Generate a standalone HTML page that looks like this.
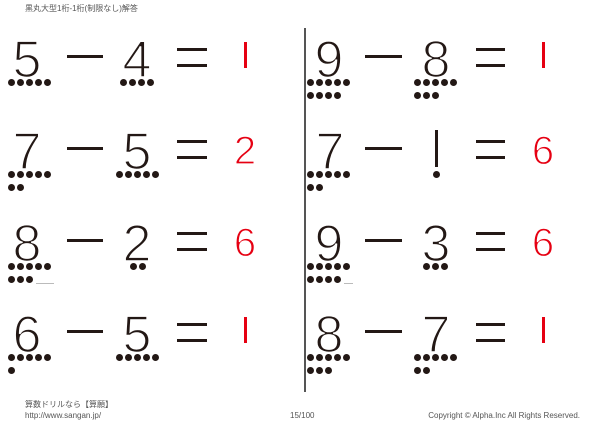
<!DOCTYPE html>
<html><head><meta charset="utf-8"><style>
body{margin:0;width:600px;height:422px;background:#fff;position:relative;overflow:hidden;font-family:"Liberation Sans","Noto Sans CJK JP",sans-serif}
.n{position:absolute;width:40px;text-align:center;font-size:52px;line-height:52px;color:#231815;-webkit-text-stroke:1.6px #fff;margin-top:3px}
.a{position:absolute;width:40px;text-align:center;font-size:40px;line-height:40px;color:#e60012;-webkit-text-stroke:1.2px #fff;margin-top:2px}
.d{position:absolute;width:7px;height:7px;border-radius:50%;background:#231815}
.m,.e{position:absolute;height:3px;background:#231815}
.t{position:absolute;font-size:8px;color:#555;white-space:nowrap}
.one{position:absolute;width:2.5px;background:#e60012}
</style></head><body>
<div class="t" style="left:25px;top:3px">黒丸大型1桁-1桁(制限なし)解答</div>
<div style="position:absolute;left:304px;top:28px;width:1.5px;height:364px;background:#555"></div>

<div class="n" style="left:7px;top:31px">5</div>
<div class="d" style="left:8px;top:79px"></div><div class="d" style="left:17px;top:79px"></div><div class="d" style="left:26px;top:79px"></div><div class="d" style="left:35px;top:79px"></div><div class="d" style="left:44px;top:79px"></div>
<div class="m" style="left:67px;top:55px;width:36px"></div>
<div class="n" style="left:117px;top:31px">4</div>
<div class="d" style="left:120px;top:79px"></div><div class="d" style="left:129px;top:79px"></div><div class="d" style="left:138px;top:79px"></div><div class="d" style="left:147px;top:79px"></div>
<div class="e" style="left:177px;top:48px;width:30px"></div><div class="e" style="left:177px;top:64px;width:30px"></div>
<div class="one" style="left:244px;top:42px;height:26px"></div>

<div class="n" style="left:309px;top:31px">9</div>
<div class="d" style="left:307px;top:79px"></div><div class="d" style="left:316px;top:79px"></div><div class="d" style="left:325px;top:79px"></div><div class="d" style="left:334px;top:79px"></div><div class="d" style="left:343px;top:79px"></div>
<div class="d" style="left:307px;top:92px"></div><div class="d" style="left:316px;top:92px"></div><div class="d" style="left:325px;top:92px"></div><div class="d" style="left:334px;top:92px"></div>
<div class="m" style="left:365px;top:55px;width:37px"></div>
<div class="n" style="left:416px;top:31px">8</div>
<div class="d" style="left:414px;top:79px"></div><div class="d" style="left:423px;top:79px"></div><div class="d" style="left:432px;top:79px"></div><div class="d" style="left:441px;top:79px"></div><div class="d" style="left:450px;top:79px"></div>
<div class="d" style="left:414px;top:92px"></div><div class="d" style="left:423px;top:92px"></div><div class="d" style="left:432px;top:92px"></div>
<div class="e" style="left:476px;top:48px;width:29px"></div><div class="e" style="left:476px;top:64px;width:29px"></div>
<div class="one" style="left:542px;top:42px;height:26px"></div>

<div class="n" style="left:7px;top:123px">7</div>
<div class="d" style="left:8px;top:171px"></div><div class="d" style="left:17px;top:171px"></div><div class="d" style="left:26px;top:171px"></div><div class="d" style="left:35px;top:171px"></div><div class="d" style="left:44px;top:171px"></div>
<div class="d" style="left:8px;top:184px"></div><div class="d" style="left:17px;top:184px"></div>
<div class="m" style="left:67px;top:147px;width:36px"></div>
<div class="n" style="left:117px;top:123px">5</div>
<div class="d" style="left:116px;top:171px"></div><div class="d" style="left:125px;top:171px"></div><div class="d" style="left:134px;top:171px"></div><div class="d" style="left:143px;top:171px"></div><div class="d" style="left:152px;top:171px"></div>
<div class="e" style="left:177px;top:140px;width:30px"></div><div class="e" style="left:177px;top:156px;width:30px"></div>
<div class="a" style="left:225px;top:129px">2</div>

<div class="n" style="left:310px;top:123px">7</div>
<div class="d" style="left:307px;top:171px"></div><div class="d" style="left:316px;top:171px"></div><div class="d" style="left:325px;top:171px"></div><div class="d" style="left:334px;top:171px"></div><div class="d" style="left:343px;top:171px"></div>
<div class="d" style="left:307px;top:184px"></div><div class="d" style="left:316px;top:184px"></div>
<div class="m" style="left:365px;top:147px;width:37px"></div>
<div style="position:absolute;left:435px;top:130px;width:3px;height:37px;background:#231815"></div>
<div class="d" style="left:433px;top:171px"></div>
<div class="e" style="left:476px;top:140px;width:29px"></div><div class="e" style="left:476px;top:156px;width:29px"></div>
<div class="a" style="left:523px;top:129px">6</div>

<div class="n" style="left:7px;top:215px">8</div>
<div class="d" style="left:8px;top:263px"></div><div class="d" style="left:17px;top:263px"></div><div class="d" style="left:26px;top:263px"></div><div class="d" style="left:35px;top:263px"></div><div class="d" style="left:44px;top:263px"></div>
<div class="d" style="left:8px;top:276px"></div><div class="d" style="left:17px;top:276px"></div><div class="d" style="left:26px;top:276px"></div>
<div style="position:absolute;left:36px;top:283px;width:18px;height:1px;background:#bbb"></div>
<div class="m" style="left:67px;top:239px;width:36px"></div>
<div class="n" style="left:117px;top:215px">2</div>
<div class="d" style="left:130px;top:263px"></div><div class="d" style="left:139px;top:263px"></div>
<div class="e" style="left:177px;top:232px;width:30px"></div><div class="e" style="left:177px;top:248px;width:30px"></div>
<div class="a" style="left:225px;top:221px">6</div>

<div class="n" style="left:309px;top:215px">9</div>
<div class="d" style="left:307px;top:263px"></div><div class="d" style="left:316px;top:263px"></div><div class="d" style="left:325px;top:263px"></div><div class="d" style="left:334px;top:263px"></div><div class="d" style="left:343px;top:263px"></div>
<div class="d" style="left:307px;top:276px"></div><div class="d" style="left:316px;top:276px"></div><div class="d" style="left:325px;top:276px"></div><div class="d" style="left:334px;top:276px"></div>
<div style="position:absolute;left:344px;top:283px;width:9px;height:1px;background:#bbb"></div>
<div class="m" style="left:365px;top:239px;width:37px"></div>
<div class="n" style="left:416px;top:215px">3</div>
<div class="d" style="left:423px;top:263px"></div><div class="d" style="left:432px;top:263px"></div><div class="d" style="left:441px;top:263px"></div>
<div class="e" style="left:476px;top:232px;width:29px"></div><div class="e" style="left:476px;top:248px;width:29px"></div>
<div class="a" style="left:523px;top:221px">6</div>

<div class="n" style="left:7px;top:306px">6</div>
<div class="d" style="left:8px;top:354px"></div><div class="d" style="left:17px;top:354px"></div><div class="d" style="left:26px;top:354px"></div><div class="d" style="left:35px;top:354px"></div><div class="d" style="left:44px;top:354px"></div>
<div class="d" style="left:8px;top:367px"></div>
<div class="m" style="left:67px;top:330px;width:36px"></div>
<div class="n" style="left:117px;top:306px">5</div>
<div class="d" style="left:116px;top:354px"></div><div class="d" style="left:125px;top:354px"></div><div class="d" style="left:134px;top:354px"></div><div class="d" style="left:143px;top:354px"></div><div class="d" style="left:152px;top:354px"></div>
<div class="e" style="left:177px;top:323px;width:30px"></div><div class="e" style="left:177px;top:339px;width:30px"></div>
<div class="one" style="left:244px;top:317px;height:26px"></div>

<div class="n" style="left:309px;top:306px">8</div>
<div class="d" style="left:307px;top:354px"></div><div class="d" style="left:316px;top:354px"></div><div class="d" style="left:325px;top:354px"></div><div class="d" style="left:334px;top:354px"></div><div class="d" style="left:343px;top:354px"></div>
<div class="d" style="left:307px;top:367px"></div><div class="d" style="left:316px;top:367px"></div><div class="d" style="left:325px;top:367px"></div>
<div class="m" style="left:365px;top:330px;width:37px"></div>
<div class="n" style="left:416px;top:306px">7</div>
<div class="d" style="left:414px;top:354px"></div><div class="d" style="left:423px;top:354px"></div><div class="d" style="left:432px;top:354px"></div><div class="d" style="left:441px;top:354px"></div><div class="d" style="left:450px;top:354px"></div>
<div class="d" style="left:414px;top:367px"></div><div class="d" style="left:423px;top:367px"></div>
<div class="e" style="left:476px;top:323px;width:29px"></div><div class="e" style="left:476px;top:339px;width:29px"></div>
<div class="one" style="left:542px;top:317px;height:26px"></div>

<div class="t" style="left:25px;top:399px">算数ドリルなら【算願】</div>
<div class="t" style="left:25px;top:411px">http://www.sangan.jp/</div>
<div class="t" style="left:290px;top:411px">15/100</div>
<div class="t" style="right:20px;top:411px">Copyright © Alpha.Inc All Rights Reserved.</div>
</body></html>
